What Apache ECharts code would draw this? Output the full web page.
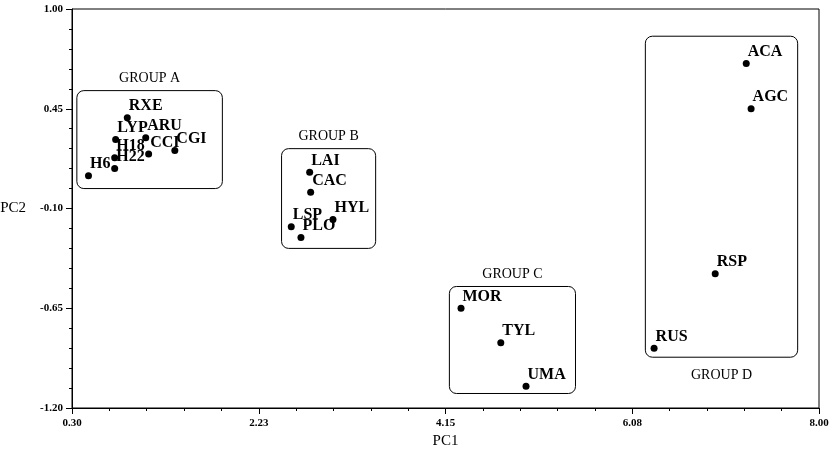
<!DOCTYPE html>
<html><head><meta charset="utf-8">
<script src="https://cdn.jsdelivr.net/npm/echarts@6/dist/echarts.min.js"></script>
<style>html,body{margin:0;padding:0;background:#fff}#c{width:833px;height:451px}</style>
</head><body><div id="c"></div>
<script>
const names = ['H6','H22','H18','LYP','RXE','ARU','CCI','CGI','LAI','CAC','HYL','LSP','PLO','MOR','TYL','UMA','ACA','AGC','RSP','RUS'];
const pc1 = [0.47,0.74,0.74,0.75,0.87,1.06,1.09,1.36,2.75,2.76,2.99,2.56,2.66,4.31,4.72,4.98,7.25,7.30,6.93,6.30];
const pc2 = [0.08,0.12,0.18,0.28,0.40,0.29,0.20,0.22,0.10,-0.01,-0.16,-0.20,-0.26,-0.65,-0.84,-1.08,0.70,0.45,-0.46,-0.87];
const groupNames = ['GROUP A','GROUP B','GROUP C','GROUP D'];
const groupPC1Range = [[0.35,1.85],[2.46,3.43],[4.19,5.49],[6.21,7.78]];
const groupPC2Range = [[0.01,0.55],[-0.32,0.23],[-1.12,-0.53],[-0.92,0.85]];
const groupTitleSide = ['top','top','top','bottom'];
const xTicks = [0.30, 2.225, 4.15, 6.075, 8.00];
const xTickLabels = ['0.30','2.23','4.15','6.08','8.00'];
const yTicks = [-1.20, -0.65, -0.10, 0.45, 1.00];
const yTickLabels = ['-1.20','-0.65','-0.10','0.45','1.00'];

function subdivide(t, n) {
  const out = [];
  for (let i = 0; i < t.length - 1; i++) {
    for (let k = 1; k < n; k++) out.push(t[i] + (t[i+1]-t[i]) * k / n);
  }
  return out;
}
function labelFor(v, ticks, labels) {
  let best = 0;
  ticks.forEach((t, i) => { if (Math.abs(t - v) < Math.abs(ticks[best] - v)) best = i; });
  return labels[best];
}
const FONT = '"Liberation Serif","Times New Roman",serif';
const chart = echarts.init(document.getElementById('c'));
const axisCommon = {type:'value', splitLine:{show:false}};
chart.setOption({
  animation: false,
  backgroundColor: '#fff',
  grid: {left:72, right:14, top:9, bottom:43, outerBoundsMode:'none', containLabel:false,
         show:true, borderColor:'#000', borderWidth:1, backgroundColor:'transparent'},
  xAxis: [
    Object.assign({}, axisCommon, {
      min:0.3, max:8, position:'bottom',
      name:'PC1', nameLocation:'middle', nameGap:23,
      nameTextStyle:{fontFamily:FONT, fontSize:15, color:'#000'},
      axisLine:{show:true, onZero:false, lineStyle:{color:'#000', width:1}},
      axisTick:{show:true, length:6, customValues:xTicks, lineStyle:{color:'#000'}},
      axisLabel:{customValues:xTicks, formatter:v=>labelFor(v,xTicks,xTickLabels), fontFamily:FONT, fontWeight:'bold', fontSize:11, color:'#000', margin:10}
    }),
    Object.assign({}, axisCommon, {
      min:0.3, max:8, position:'bottom',
      axisLine:{show:false, onZero:false},
      axisTick:{show:true, length:3, customValues:subdivide(xTicks,5), lineStyle:{color:'#000'}},
      axisLabel:{show:false}
    })
  ],
  yAxis: [
    Object.assign({}, axisCommon, {
      min:-1.2, max:1.0, position:'left',
      name:'PC2', nameLocation:'middle', nameGap:46, nameRotate:0,
      nameTextStyle:{fontFamily:FONT, fontSize:15, color:'#000'},
      axisLine:{show:true, onZero:false, lineStyle:{color:'#000', width:1}},
      axisTick:{show:true, length:6, customValues:yTicks, lineStyle:{color:'#000'}},
      axisLabel:{customValues:yTicks, formatter:v=>labelFor(v,yTicks,yTickLabels), fontFamily:FONT, fontWeight:'bold', fontSize:11, color:'#000', margin:9}
    }),
    Object.assign({}, axisCommon, {
      min:-1.2, max:1.0, position:'left',
      axisLine:{show:false, onZero:false},
      axisTick:{show:true, length:3, customValues:subdivide(yTicks,5), lineStyle:{color:'#000'}},
      axisLabel:{show:false}
    })
  ],
  series: [
    {
      type:'custom', xAxisIndex:0, yAxisIndex:0, silent:true,
      data: groupNames.map((n,i)=>[groupPC1Range[i][0], groupPC1Range[i][1], groupPC2Range[i][0], groupPC2Range[i][1]]),
      renderItem: function(params, api) {
        const i = params.dataIndex;
        const tl = api.coord([api.value(0), api.value(3)]);
        const br = api.coord([api.value(1), api.value(2)]);
        const cx = (tl[0]+br[0])/2;
        const ty = groupTitleSide[i] === 'top' ? tl[1]-12 : br[1]+18;
        return {type:'group', children:[
          {type:'rect', shape:{x:tl[0], y:tl[1], width:br[0]-tl[0], height:br[1]-tl[1], r:7},
           style:{fill:'none', stroke:'#000', lineWidth:1}},
          {type:'text', x:cx, y:ty, style:{text:groupNames[i], align:'center', verticalAlign:'middle',
           font:'14px ' + FONT, fill:'#000'}}
        ]};
      }
    },
    {
      type:'scatter', xAxisIndex:0, yAxisIndex:0,
      symbol:'circle', symbolSize:7,
      itemStyle:{color:'#000', opacity:1},
      data: names.map((n,i)=>({name:n, value:[pc1[i], pc2[i]]})),
      label:{show:true, formatter:'{b}', position:[5,-8], align:'left', verticalAlign:'middle',
        fontFamily:FONT, fontWeight:'bold', fontSize:16, color:'#000'},
      labelLayout:{hideOverlap:false}
    }
  ]
});
</script></body></html>
